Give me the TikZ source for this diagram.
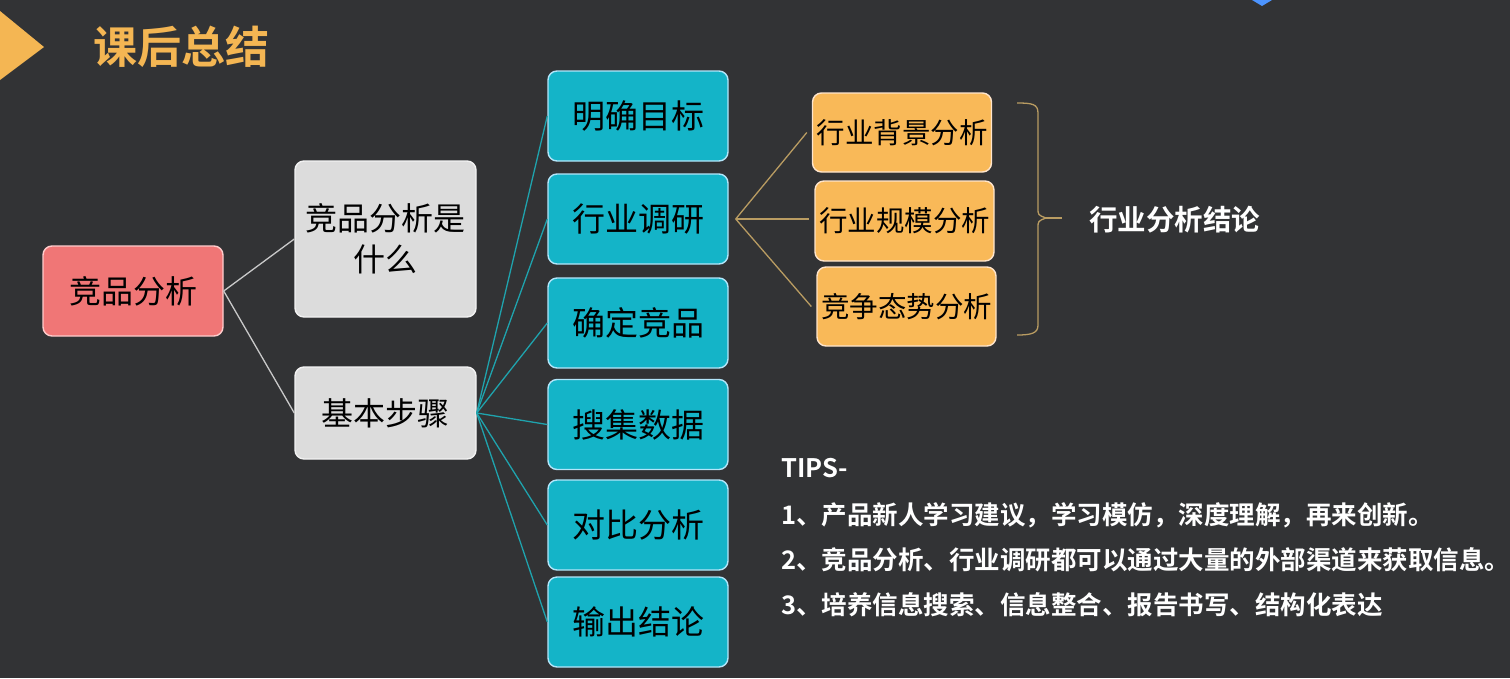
\documentclass[tikz,border=0pt]{standalone}
\usepackage{fontspec}
\setmainfont{Noto Sans CJK SC}
\newfontfamily\cjkb{Noto Sans CJK SC Bold}
\definecolor{bg}{HTML}{323335}
\definecolor{redbox}{HTML}{F07676}
\definecolor{graybox}{HTML}{DCDCDC}
\definecolor{cyanbox}{HTML}{14B4C8}
\definecolor{orgbox}{HTML}{F9B958}
\definecolor{titleorg}{HTML}{F4B653}
\definecolor{tealline}{HTML}{1FA3AD}
\definecolor{tanline}{HTML}{B99C62}
\definecolor{grayline}{HTML}{C9C9C9}
\tikzset{
  box/.style={rounded corners=9pt, line width=1.4pt, align=center, text=black, inner sep=0pt},
  redstyle/.style={box, fill=redbox, draw=red!20!white, minimum width=180pt, minimum height=90pt, font=\fontsize{32}{36}\selectfont},
  graystyle/.style={box, fill=graybox, draw=white!90!gray, minimum width=181pt, font=\fontsize{32}{41}\selectfont},
  cyanstyle/.style={box, fill=cyanbox, draw=cyan!30!white, minimum width=180pt, minimum height=90pt, font=\fontsize{33}{36}\selectfont},
  orgstyle/.style={box, fill=orgbox, draw=orange!20!white, minimum width=179pt, minimum height=79pt, font=\fontsize{28.5}{31}\selectfont},
  graylink/.style={draw=grayline, line width=1.3pt},
  teallink/.style={draw=tealline, line width=1.3pt},
  tanlink/.style={draw=tanline, line width=1.3pt},
  tipstyle/.style={anchor=west, text=white, inner sep=0pt, font=\cjkb\fontsize{25.5}{28}\selectfont},
}
\begin{document}
\begin{tikzpicture}[x=1pt,y=-1pt]
\fill[bg] (0,0) rectangle (1510,678);
\useasboundingbox (0,0) rectangle (1510,678);
% header decorations
\fill[titleorg] (0,11) -- (44,47) -- (0,80) -- cycle;
\fill[blue!60!cyan!70!white] (1252,0) -- (1272,0) -- (1262,6) -- cycle;
\node[anchor=west, text=titleorg, inner sep=0pt, font=\cjkb\fontsize{44}{48}\selectfont] (title) at (93,47) {课后总结};
% level 1
\node[redstyle] (comp) at (133,291) {竞品分析};
% level 2
\node[graystyle, minimum height=156pt] (what) at (385.5,239) {竞品分析是\\什么};
\node[graystyle, minimum height=92pt] (steps) at (385.5,413) {基本步骤};
% level 3
\node[cyanstyle] (s1) at (638,116) {明确目标};
\node[cyanstyle] (s2) at (638,219) {行业调研};
\node[cyanstyle] (s3) at (638,323) {确定竞品};
\node[cyanstyle] (s4) at (638,424.5) {搜集数据};
\node[cyanstyle] (s5) at (638,525) {对比分析};
\node[cyanstyle] (s6) at (638,622) {输出结论};
% level 4
\node[orgstyle] (o1) at (902,132.5) {行业背景分析};
\node[orgstyle, minimum height=80pt] (o2) at (904.5,221) {行业规模分析};
\node[orgstyle] (o3) at (906.5,306.5) {竞争态势分析};
% connectors
\draw[graylink] (comp.east) -- (what.west);
\draw[graylink] (comp.east) -- (steps.west);
\foreach \s in {s1,s2,s3,s4,s5,s6} {\draw[teallink] (steps.east) -- (\s.west);}
\coordinate (hub) at ([xshift=7pt]s2.east);
\draw[tanlink] (hub) -- ([xshift=-5pt]o1.west);
\draw[tanlink] (hub) -- ([xshift=-5pt]hub -| o2.west);
\draw[tanlink] (hub) -- ([xshift=-5pt]o3.west);
% brace
\coordinate (btip) at (1046,218);
\draw[tanlink] (1017,103) .. controls (1032,103) and (1038,104) .. (1038,113) -- (1038,208) .. controls (1038,215) .. (btip) .. controls (1038,221) .. (1038,228) -- (1038,325) .. controls (1038,333) and (1032,335) .. (1017,335);
\draw[tanlink] (btip) -- (1062,218);
\node[anchor=west, text=white, inner sep=0pt, font=\cjkb\fontsize{28.5}{31}\selectfont] (concl) at (1089,220) {行业分析结论};
% tips
\node[tipstyle] (t0) at (781,468) {TIPS-};
\node[tipstyle] (t1) at (781,515) {1、产品新人学习建议，学习模仿，深度理解，再来创新。};
\node[tipstyle] (t2) at (781,560) {2、竞品分析、行业调研都可以通过大量的外部渠道来获取信息。};
\node[tipstyle] (t3) at (781,605) {3、培养信息搜索、信息整合、报告书写、结构化表达};
\end{tikzpicture}
\end{document}
